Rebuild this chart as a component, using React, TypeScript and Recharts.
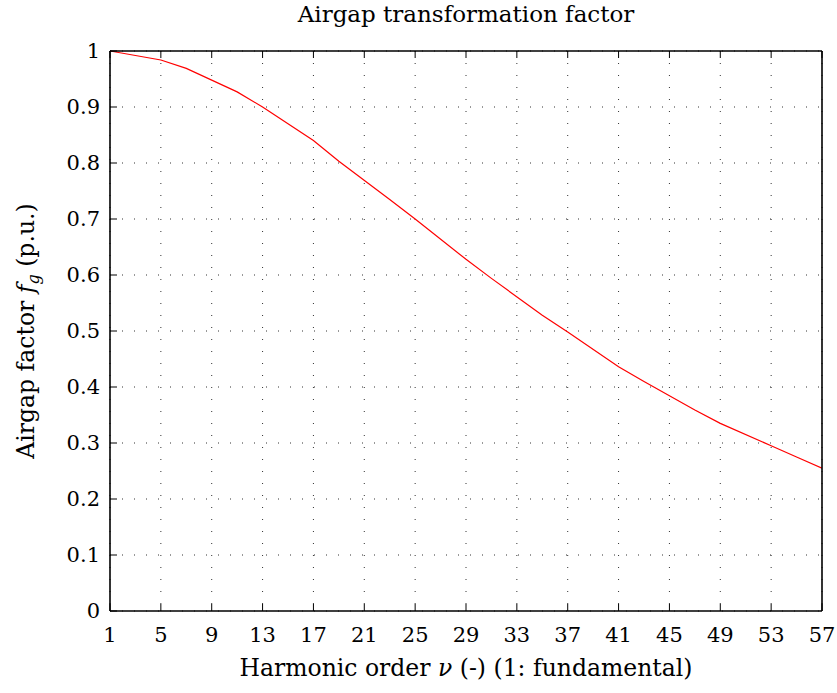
import React from 'react';
import { LineChart, Line, XAxis, YAxis, CartesianGrid } from 'recharts';

const harmonicOrders = [1, 5, 7, 11, 13, 17, 19, 23, 25, 29, 31, 35, 37, 41, 43, 47, 49, 53, 55, 57];
const airgapFactor = [1.0, 0.984, 0.969, 0.927, 0.9, 0.84, 0.803, 0.735, 0.7, 0.628, 0.594, 0.528, 0.498, 0.436, 0.41, 0.359, 0.335, 0.295, 0.275, 0.255];
const xTicks = [1, 5, 9, 13, 17, 21, 25, 29, 33, 37, 41, 45, 49, 53, 57];
const yTicks = [0, 0.1, 0.2, 0.3, 0.4, 0.5, 0.6, 0.7, 0.8, 0.9, 1];

const title = 'Airgap transformation factor';

const data = harmonicOrders.map((nu, i) => ({ nu, fg: airgapFactor[i] }));

const FONT = '"DejaVu Serif", serif';
const W = 837;
const H = 693;

const fmtY = (v: number) => (v === 0 ? '0' : v === 1 ? '1' : v.toFixed(1));

export default function App() {
  const tickStyle = { fontFamily: FONT, fontSize: 21, fill: '#000' };
  return (
    <div style={{ position: 'absolute', left: 0, top: 0, width: W, height: H, background: '#fff' }}>
      <LineChart width={W} height={H} data={data} margin={{ top: 50, right: 14, bottom: 42, left: 50 }}>
        <CartesianGrid stroke="#333" strokeDasharray="1 11" strokeWidth={1} />
        <XAxis
          dataKey="nu"
          type="number"
          domain={[1, 57]}
          ticks={xTicks}
          allowDataOverflow
          height={40}
          tickSize={-7}
          tickMargin={23}
          tick={tickStyle}
          axisLine={{ stroke: '#000', strokeWidth: 1.6 }}
          tickLine={{ stroke: '#000', strokeWidth: 1 }}
          interval={0}
        />
        <XAxis
          xAxisId="top"
          dataKey="nu"
          type="number"
          orientation="top"
          domain={[1, 57]}
          ticks={xTicks}
          allowDataOverflow
          height={1}
          tickSize={-7}
          tickFormatter={() => ''}
          axisLine={{ stroke: '#000', strokeWidth: 1.6 }}
          tickLine={{ stroke: '#000', strokeWidth: 1 }}
          interval={0}
        />
        <YAxis
          type="number"
          domain={[0, 1]}
          ticks={yTicks}
          width={60}
          tickSize={-7}
          tickMargin={17}
          tick={tickStyle}
          tickFormatter={fmtY}
          axisLine={{ stroke: '#000', strokeWidth: 1.6 }}
          tickLine={{ stroke: '#000', strokeWidth: 1 }}
          interval={0}
        />
        <YAxis
          yAxisId="right"
          orientation="right"
          type="number"
          domain={[0, 1]}
          ticks={yTicks}
          width={1}
          tickSize={-7}
          tickFormatter={() => ''}
          axisLine={{ stroke: '#000', strokeWidth: 1.6 }}
          tickLine={{ stroke: '#000', strokeWidth: 1 }}
          interval={0}
        />
        <Line
          dataKey="fg"
          type="linear"
          stroke="#ff0000"
          strokeWidth={1.2}
          dot={false}
          isAnimationActive={false}
        />
      </LineChart>
      <svg
        width={W}
        height={H}
        style={{ position: 'absolute', left: 0, top: 0, pointerEvents: 'none' }}
      >
        <text x={466} y={22} textAnchor="middle" fontFamily={FONT} fontSize={23} fill="#000">
          {title}
        </text>
        <text x={466} y={676} textAnchor="middle" fontFamily={FONT} fontSize={23.5} fill="#000">
          Harmonic order <tspan fontStyle="italic">ν</tspan> (-) (1: fundamental)
        </text>
        <text
          transform="translate(34,331) rotate(-90)"
          textAnchor="middle"
          fontFamily={FONT}
          fontSize={23.5}
          fill="#000"
        >
          Airgap factor <tspan fontStyle="italic">f</tspan>
          <tspan fontStyle="italic" fontSize={16} dy={5}>g</tspan>
          <tspan dy={-5}> (p.u.)</tspan>
        </text>
      </svg>
    </div>
  );
}
